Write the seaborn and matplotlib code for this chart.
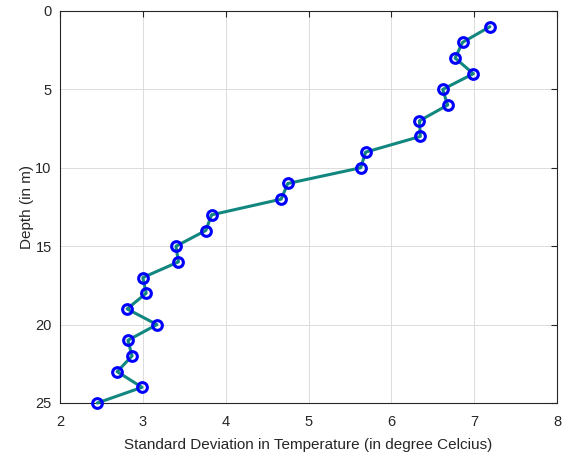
import matplotlib
matplotlib.use("Agg")
import matplotlib.pyplot as plt
import seaborn as sns
import pandas as pd

depth = list(range(1, 26))
std_temp = [7.19, 6.86, 6.77, 6.99, 6.62, 6.68, 6.34, 6.35, 5.69, 5.63,
            4.75, 4.67, 3.83, 3.76, 3.40, 3.43, 3.00, 3.04, 2.81, 3.17,
            2.82, 2.87, 2.69, 2.99, 2.45]
x_ticks = [2, 3, 4, 5, 6, 7, 8]
y_ticks = [0, 5, 10, 15, 20, 25]

df = pd.DataFrame({"std": std_temp, "depth": depth})

sns.set_style("white")
plt.rcParams['font.family'] = ['Liberation Sans', 'DejaVu Sans']
txt = '#262626'

fig = plt.figure(figsize=(5.67, 4.53), dpi=100)
ax = fig.add_axes([60/567, 1-403/453, (557-60)/567, (403-11)/453])

sns.lineplot(data=df, x="std", y="depth", sort=False, estimator=None, ax=ax,
             color='#12877f', linewidth=2.2, marker='o', markersize=7,
             markerfacecolor='none', markeredgecolor='#0000ff',
             markeredgewidth=2.2, zorder=3, clip_on=False)

ax.set_xlim(2, 8)
ax.set_ylim(25, 0)
ax.set_xticks(x_ticks)
ax.set_yticks(y_ticks)
ax.grid(True, color='#dcdcdc', linewidth=0.7)
ax.set_axisbelow(True)
for s in ax.spines.values():
    s.set_visible(True)
    s.set_color(txt)
    s.set_linewidth(0.8)
ax.tick_params(direction='in', length=4, width=0.8, colors=txt,
               labelsize=10.5, top=True, right=True, labelcolor=txt)
ax.tick_params(axis='x', pad=9)
ax.tick_params(axis='y', pad=6)
ax.set_xlabel("Standard Deviation in Temperature (in degree Celcius)",
              fontsize=11, color=txt, labelpad=6)
ax.set_ylabel("Depth (in m)", fontsize=11, color=txt, labelpad=1)

fig.savefig("out.png", dpi=100)
